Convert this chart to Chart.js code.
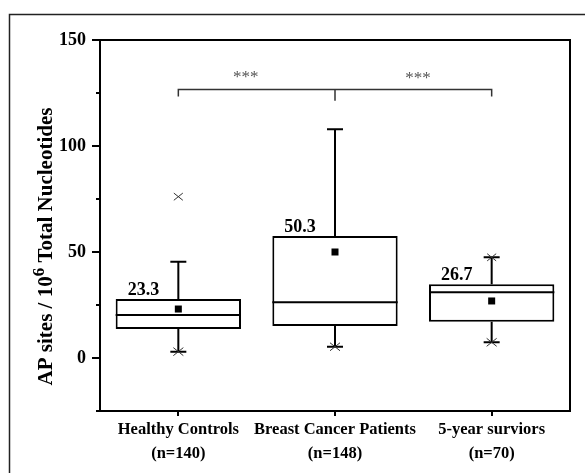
<!DOCTYPE html>
<html>
<head>
<meta charset="utf-8">
<script src="https://cdn.jsdelivr.net/npm/chart.js@4"></script>
<style>
body { margin: 0; background: #fff; }
#wrap { width: 585px; height: 473px; position: relative; }
</style>
</head>
<body>
<div id="wrap"><canvas id="chart"></canvas></div>
<script>
const categories = [['Healthy Controls', '(n=140)'], ['Breast Cancer Patients', '(n=148)'], ['5-year surviors', '(n=70)']];
const q1 = [13.7, 15.1, 17.1];
const q3 = [27.8, 57.5, 34.8];
const medians = [20.3, 26.3, 31.0];
const whiskerLow = [3.0, 5.3, 7.4];
const whiskerHigh = [45.4, 107.9, 47.5];
const means = [23.1, 50.0, 26.9];
const meanLabels = ['23.3', '50.3', '26.7'];
const minMarks = [3.0, 5.3, 7.4];
const maxMarks = [76.1, null, 47.5];
const minorTicks = [-25, 25, 75, 125];
// significance bracket: top line value, ends drop to, middle drop to
const bracket = { top: 126.7, ends: 123.3, mid: 121.4 };
const stars = [{ pos: 0.43, value: 132.2 }, { pos: 1.53, value: 132.0 }];

const serif = '"Liberation Serif", "Times New Roman", serif';

const drawCross = (ctx, x, y, s) => {
    ctx.beginPath();
    ctx.moveTo(x - s, y - s * 0.8); ctx.lineTo(x + s, y + s * 0.8);
    ctx.moveTo(x + s, y - s * 0.8); ctx.lineTo(x - s, y + s * 0.8);
    ctx.stroke();
}

const boxExtras = {
    id: 'boxExtras',
    beforeDraw(chart) {
        const ctx = chart.ctx;
        ctx.save();
        ctx.fillStyle = '#fff';
        ctx.fillRect(0, 0, chart.width, chart.height);
        ctx.strokeStyle = '#222';
        ctx.lineWidth = 1.5;
        ctx.strokeRect(9.5, 14.5, 700, 600);
        ctx.restore();
    },
    afterDatasetsDraw(chart) {
        const ctx = chart.ctx;
        const xs = chart.scales.x, ys = chart.scales.y;
        const meta = chart.getDatasetMeta(0);
        ctx.save();
        ctx.strokeStyle = '#000';
        ctx.fillStyle = '#000';
        ctx.lineWidth = 2;

        categories.forEach((c, i) => {
            const bar = meta.data[i];
            const cx = xs.getPixelForValue(i);
            const half = bar.width / 2;
            // median
            ctx.beginPath();
            ctx.moveTo(cx - half, ys.getPixelForValue(medians[i]));
            ctx.lineTo(cx + half, ys.getPixelForValue(medians[i]));
            ctx.stroke();
            // whiskers + caps
            ctx.beginPath();
            ctx.moveTo(cx, ys.getPixelForValue(q3[i]));
            ctx.lineTo(cx, ys.getPixelForValue(whiskerHigh[i]));
            ctx.moveTo(cx, ys.getPixelForValue(q1[i]));
            ctx.lineTo(cx, ys.getPixelForValue(whiskerLow[i]));
            ctx.moveTo(cx - 8, ys.getPixelForValue(whiskerHigh[i]));
            ctx.lineTo(cx + 8, ys.getPixelForValue(whiskerHigh[i]));
            ctx.moveTo(cx - 8, ys.getPixelForValue(whiskerLow[i]));
            ctx.lineTo(cx + 8, ys.getPixelForValue(whiskerLow[i]));
            ctx.stroke();
            // mean square
            const my = ys.getPixelForValue(means[i]);
            ctx.fillRect(cx - 3.5, my - 3.5, 7, 7);
            // min / max markers
            ctx.save();
            ctx.lineWidth = 1;
            ctx.strokeStyle = '#333';
            if (minMarks[i] !== null) drawCross(ctx, cx, ys.getPixelForValue(minMarks[i]), 5);
            if (maxMarks[i] !== null) drawCross(ctx, cx, ys.getPixelForValue(maxMarks[i]), 4.5);
            ctx.restore();
            // mean label
            ctx.font = 'bold 18px ' + serif;
            ctx.textAlign = 'left';
            ctx.textBaseline = 'alphabetic';
            ctx.fillText(meanLabels[i], cx - half + 12, ys.getPixelForValue(q3[i]) - 4);
        });

        // significance bracket
        const x0 = xs.getPixelForValue(0), x1 = xs.getPixelForValue(1), x2 = xs.getPixelForValue(2);
        const by = ys.getPixelForValue(bracket.top);
        ctx.strokeStyle = '#333';
        ctx.lineWidth = 1.5;
        ctx.beginPath();
        ctx.moveTo(x0, ys.getPixelForValue(bracket.ends));
        ctx.lineTo(x0, by);
        ctx.lineTo(x2, by);
        ctx.lineTo(x2, ys.getPixelForValue(bracket.ends));
        ctx.moveTo(x1, by);
        ctx.lineTo(x1, ys.getPixelForValue(bracket.mid));
        ctx.stroke();
        ctx.fillStyle = '#555';
        ctx.font = '17px ' + serif;
        ctx.textAlign = 'center';
        ctx.textBaseline = 'middle';
        stars.forEach(s => {
            ctx.fillText('***', xs.getPixelForValue(s.pos), ys.getPixelForValue(s.value));
        });
        ctx.restore();
    },
    afterDraw(chart) {
        const ctx = chart.ctx;
        const ys = chart.scales.y;
        const area = chart.chartArea;
        ctx.save();
        ctx.strokeStyle = '#000';
        ctx.lineWidth = 2;
        // top and right frame
        ctx.beginPath();
        ctx.moveTo(area.left - 1, area.top);
        ctx.lineTo(area.right, area.top);
        ctx.lineTo(area.right, area.bottom + 1);
        ctx.stroke();
        // minor ticks
        ctx.beginPath();
        minorTicks.forEach(v => {
            const y = ys.getPixelForValue(v);
            ctx.moveTo(area.left, y);
            ctx.lineTo(area.left - 4, y);
        });
        ctx.stroke();
        // y title with superscript
        ctx.translate(52, 246.5);
        ctx.rotate(-Math.PI / 2);
        ctx.fillStyle = '#000';
        ctx.textBaseline = 'alphabetic';
        ctx.textAlign = 'left';
        const big = 'bold 21px ' + serif, small = 'bold 17px ' + serif;
        const p1 = 'AP sites / 10', p2 = '6', p3 = ' Total Nucleotides';
        ctx.font = big;
        const w1 = ctx.measureText(p1).width, w3 = ctx.measureText(p3).width;
        ctx.font = small;
        const w2 = ctx.measureText(p2).width;
        let x = -(w1 + w2 + w3) / 2;
        ctx.font = big;
        ctx.fillText(p1, x, 0);
        x += w1;
        ctx.font = small;
        ctx.fillText(p2, x, -8);
        x += w2;
        ctx.font = big;
        ctx.fillText(p3, x, 0);
        ctx.restore();
    }
};

new Chart(document.getElementById('chart'), {
    type: 'bar',
    data: {
        labels: categories,
        datasets: [{
            data: categories.map((c, i) => [q1[i], q3[i]]),
            backgroundColor: '#fff',
            borderColor: '#000',
            borderWidth: 2,
            borderSkipped: false,
            categoryPercentage: 0.8,
            barPercentage: 1
        }]
    },
    options: {
        responsive: true,
        maintainAspectRatio: false,
        animation: false,
        layout: { padding: { left: 0, top: 40, right: 15, bottom: 0 } },
        plugins: { legend: { display: false }, tooltip: { enabled: false } },
        scales: {
            x: {
                offset: true,
                afterFit: (s) => { s.height = 62; },
                grid: { display: true, drawOnChartArea: false, offset: false, tickLength: 5, color: '#000', lineWidth: 2 },
                border: { color: '#000', width: 2 },
                ticks: {
                    color: '#000',
                    padding: 2,
                    autoSkip: false,
                    maxRotation: 0,
                    font: { family: serif, size: 16.5, weight: 'bold', lineHeight: 1.45 }
                }
            },
            y: {
                min: -25,
                max: 150,
                afterFit: (s) => { s.width = 100; },
                grid: {
                    drawOnChartArea: false,
                    tickLength: 8,
                    lineWidth: 2,
                    tickColor: (ctx) => (ctx.tick && ctx.tick.value % 50 === 0) ? '#000' : 'rgba(0,0,0,0)'
                },
                border: { color: '#000', width: 2 },
                ticks: {
                    stepSize: 25,
                    padding: 6,
                    color: '#000',
                    font: { family: serif, size: 18, weight: 'bold' },
                    callback: (v) => v % 50 === 0 ? v : ''
                }
            }
        }
    },
    plugins: [boxExtras]
});
</script>
</body>
</html>
